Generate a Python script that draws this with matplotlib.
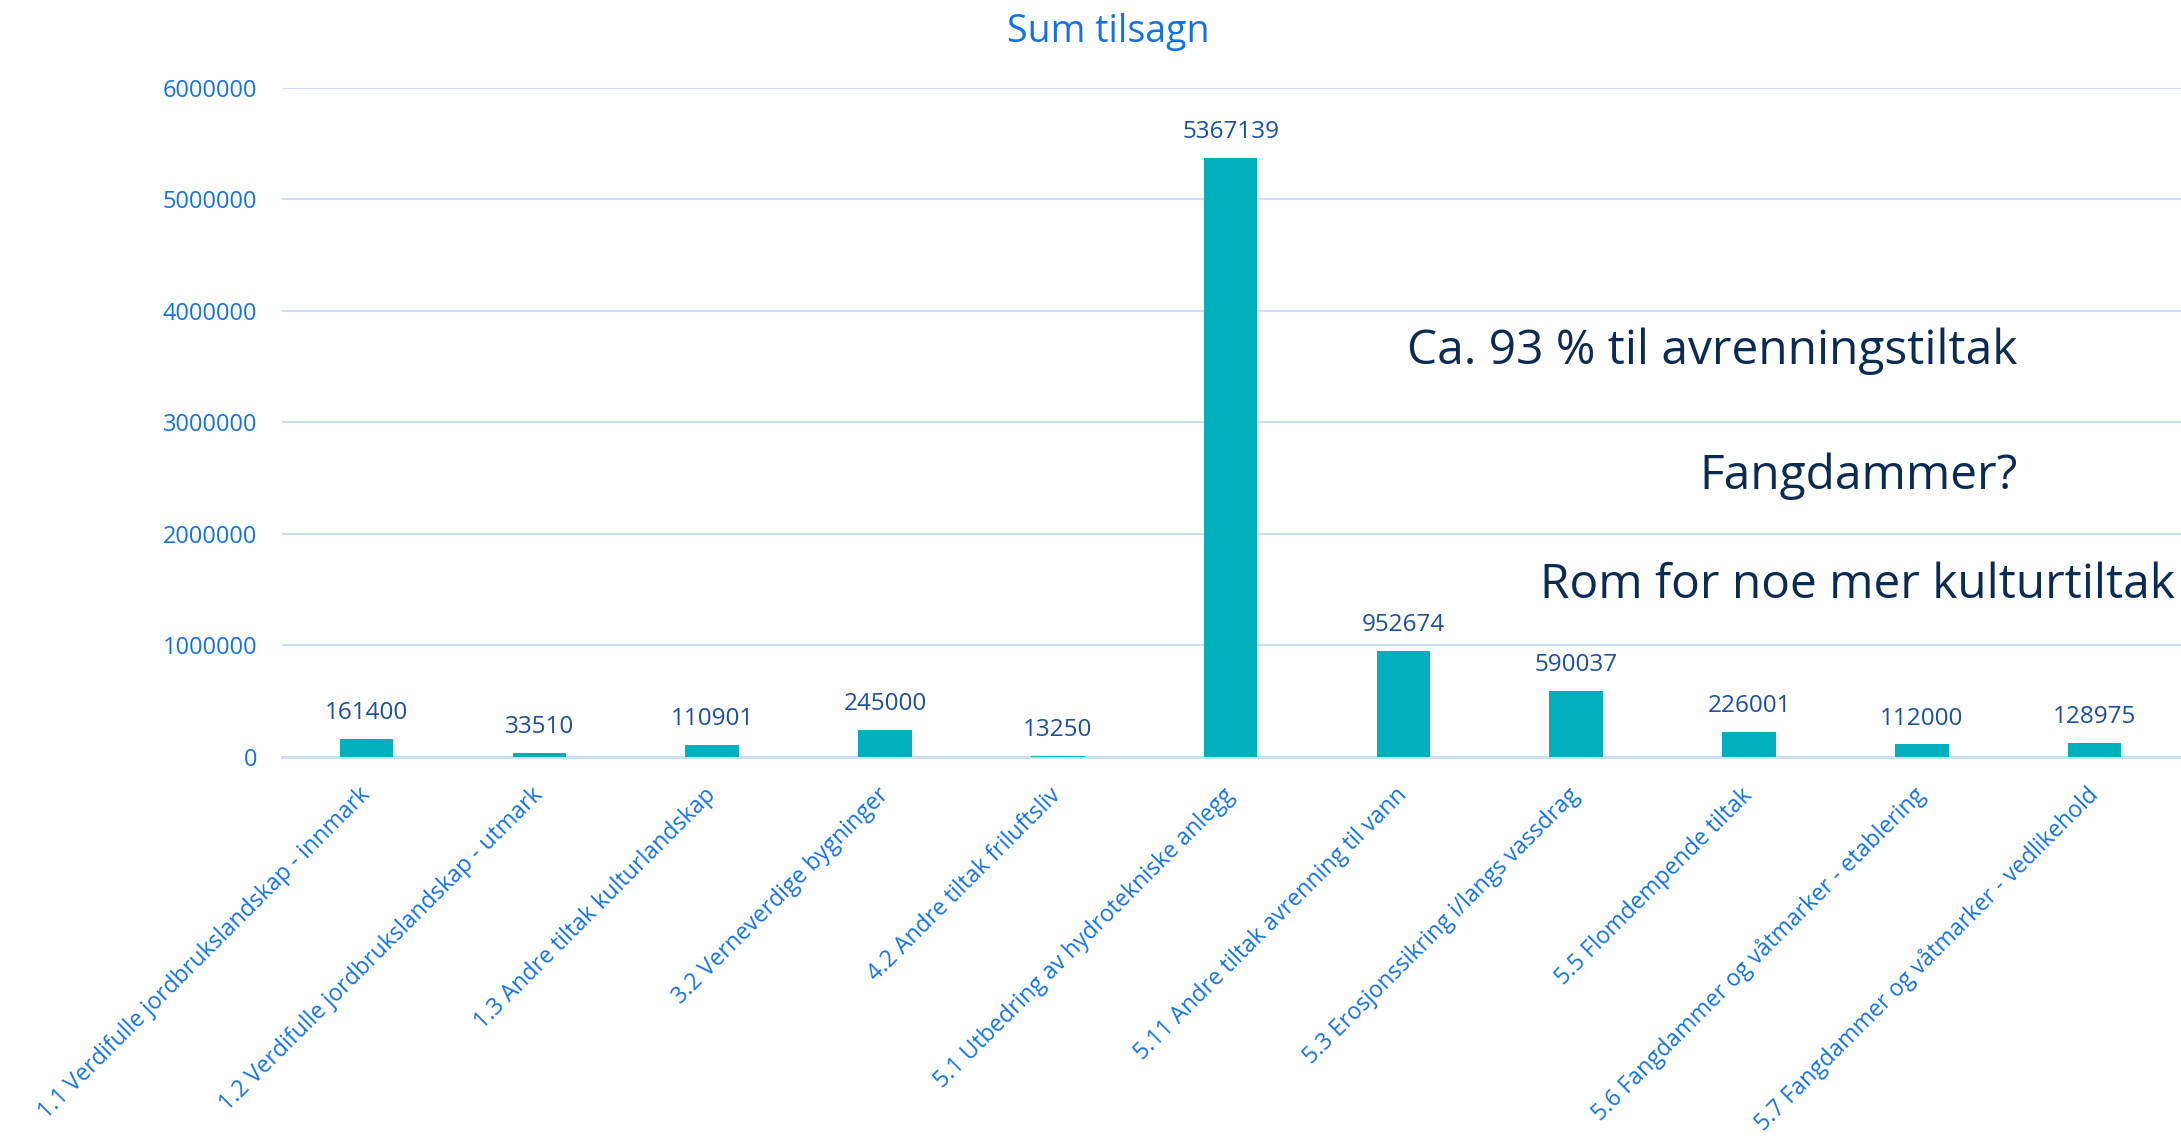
import matplotlib
matplotlib.use('Agg')
import matplotlib.pyplot as plt
import numpy as np

plt.rcParams['font.family'] = ['Open Sans', 'DejaVu Sans']

# data
kategorier = ['1.1 Verdifulle jordbrukslandskap - innmark',
              '1.2 Verdifulle jordbrukslandskap - utmark',
              '1.3 Andre tiltak kulturlandskap',
              '3.2 Verneverdige bygninger',
              '4.2 Andre tiltak friluftsliv',
              '5.1 Utbedring av hydrotekniske anlegg',
              '5.11 Andre tiltak avrenning til vann',
              '5.3 Erosjonssikring i/langs vassdrag',
              '5.5 Flomdempende tiltak',
              '5.6 Fangdammer og våtmarker - etablering',
              '5.7 Fangdammer og våtmarker - vedlikehold']
tilsagn = [161400, 33510, 110901, 245000, 13250, 5367139, 952674, 590037, 226001, 112000, 128975]
yticks = [0, 1000000, 2000000, 3000000, 4000000, 5000000, 6000000]
notater = ['Ca. 93 % til avrenningstiltak', 'Fangdammer?', 'Rom for noe mer kulturtiltak']

bar_farge = '#00AEBC'
tick_farge = '#1572E3'
verdi_farge = '#1D4F9E'
tekst_farge = '#0C2B52'
grid_farge = '#C9DFF7'

fig = plt.figure(figsize=(21.81, 11.39), dpi=100)
ax = fig.add_axes([0.1293, 0.3354, 0.8707, 0.5877])

x = np.arange(len(kategorier))
bars = ax.bar(x, tilsagn, width=0.31, color=bar_farge, zorder=3)

for xi, v in zip(x, tilsagn):
    ax.annotate(str(v), (xi, v), xytext=(0, 10), textcoords='offset points',
                ha='center', va='bottom', fontsize=17.5, color=verdi_farge)

ax.set_xlim(-0.49, 10.5)
ax.set_ylim(0, 6000000)
ax.set_yticks(yticks)
ax.set_yticklabels([str(t) for t in yticks], fontsize=17, color=tick_farge)
ax.yaxis.grid(True, color=grid_farge, linewidth=1.5, zorder=0)
ax.set_axisbelow(True)

ax.set_xticks(x)
ax.set_xticklabels(kategorier, rotation=45, ha='right', va='center',
                   rotation_mode='anchor', fontsize=16.7, color=tick_farge)
ax.tick_params(axis='x', length=0, pad=25)
ax.tick_params(axis='y', length=0, pad=18)

for s in ['top', 'right', 'left']:
    ax.spines[s].set_visible(False)
ax.spines['bottom'].set_color(grid_farge)
ax.spines['bottom'].set_linewidth(2)

# titel
fig.text(0.508, 0.972, 'Sum tilsagn', ha='center', va='center', fontsize=27, color=tick_farge)

# kommentarer
fig.text(0.925, 0.692, notater[0], ha='right', va='center', fontsize=34.5, color=tekst_farge)
fig.text(0.925, 0.582, notater[1], ha='right', va='center', fontsize=34.5, color=tekst_farge)
fig.text(0.997, 0.486, notater[2], ha='right', va='center', fontsize=34.5, color=tekst_farge)

fig.savefig('out.png', dpi=100)
